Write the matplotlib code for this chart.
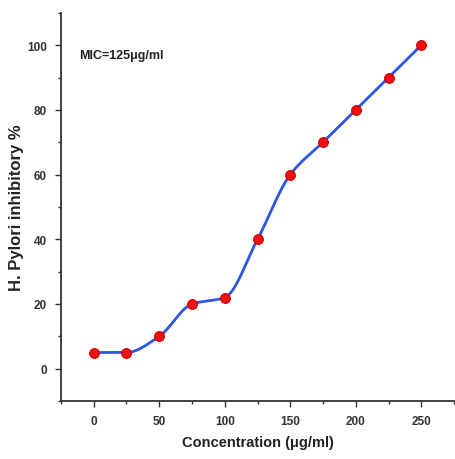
import numpy as np
import matplotlib
matplotlib.use("Agg")
import matplotlib.pyplot as plt
from matplotlib.ticker import MultipleLocator

conc = [0, 25, 50, 75, 100, 125, 150, 175, 200, 225, 250]
inhib = [5, 5, 10, 20, 22, 40, 60, 70, 80, 90, 100]
annotation = "MIC=125\u03bcg/ml"
xlabel = "Concentration (\u03bcg/ml)"
ylabel = "H. Pylori inhibitory %"


def pchip(x, y, xs):
    x = np.asarray(x, float); y = np.asarray(y, float)
    h = np.diff(x); d = np.diff(y) / h
    n = len(x); m = np.zeros(n)
    for k in range(1, n - 1):
        if d[k - 1] * d[k] > 0:
            w1 = 2 * h[k] + h[k - 1]; w2 = h[k] + 2 * h[k - 1]
            m[k] = (w1 + w2) / (w1 / d[k - 1] + w2 / d[k])
    m[0] = d[0]; m[-1] = d[-1]
    idx = np.clip(np.searchsorted(x, xs) - 1, 0, n - 2)
    t = (xs - x[idx]) / h[idx]
    h00 = 2 * t**3 - 3 * t**2 + 1; h10 = t**3 - 2 * t**2 + t
    h01 = -2 * t**3 + 3 * t**2; h11 = t**3 - t**2
    return h00 * y[idx] + h10 * h[idx] * m[idx] + h01 * y[idx + 1] + h11 * h[idx] * m[idx + 1]


plt.rcParams['font.family'] = ['Liberation Sans', 'DejaVu Sans']
fig = plt.figure(figsize=(4.55, 4.6), dpi=100)
ax = fig.add_axes([0.134, 0.126, 0.864, 0.844])

xs = np.linspace(conc[0], conc[-1], 500)
ax.plot(xs, pchip(conc, inhib, xs), color='#2f55e8', lw=2, zorder=2)
ax.plot(conc, inhib, 'o', ms=7, mfc='#f01010', mec='#d00000', mew=0.8, zorder=3)

ax.set_xlim(-25, 275)
ax.set_ylim(-10, 110)
ax.xaxis.set_major_locator(MultipleLocator(50))
ax.xaxis.set_minor_locator(MultipleLocator(25))
ax.yaxis.set_major_locator(MultipleLocator(20))
ax.yaxis.set_minor_locator(MultipleLocator(10))
for s in ['top', 'right']:
    ax.spines[s].set_visible(False)
for s in ['left', 'bottom']:
    ax.spines[s].set_linewidth(1.3)
    ax.spines[s].set_color('#333333')
ax.tick_params(which='major', length=4, width=1, labelsize=8.5, colors='#333333', pad=6)
ax.tick_params(which='minor', length=2.5, width=1, colors='#333333')
for lab in ax.get_xticklabels() + ax.get_yticklabels():
    lab.set_fontweight('bold')

ax.set_xlabel(xlabel, fontsize=10.5, fontweight='bold', color='#222222', labelpad=6)
ax.set_ylabel(ylabel, fontsize=12, fontweight='bold', color='#222222', labelpad=2)
ax.text(-11, 97, annotation, fontsize=9, fontweight='bold', color='#222222', va='center')

fig.savefig('out.png', dpi=100)
